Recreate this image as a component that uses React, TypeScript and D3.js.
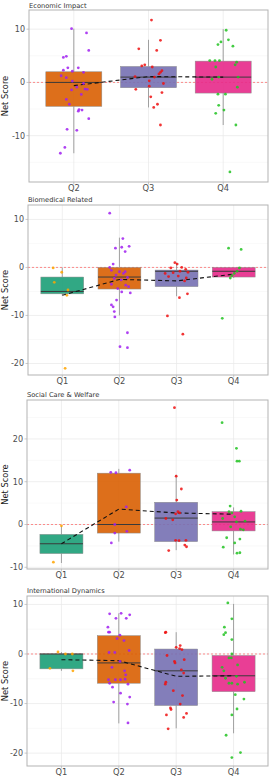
import React, { useEffect, useRef } from "react";
import * as d3 from "d3";

// each point: [horizontal jitter in category units, net score]
type Pt = [number, number];

const boxFill: Record<string, string> = {
  Q1: "#1B9E77",
  Q2: "#D95F02",
  Q3: "#7570B3",
  Q4: "#E7298A",
};
const pointFill: Record<string, string> = {
  Q1: "#FFA500",
  Q2: "#A020F0",
  Q3: "#EE1111",
  Q4: "#22C322",
};

// ---- Economic Impact ----
const econQuarters = ["Q2", "Q3", "Q4"];
// [lower whisker, q1, median, q3, upper whisker]
const econStats = [
  [-13.3, -4.5, 0, 2, 10.1],
  [-4.7, -1, 1, 3, 8],
  [-8, -2, 1, 4, 10],
];
const econMeans = [-0.6, 1.1, 1.0];
const econTicks = [-10, 0, 10];
const econPoints: Pt[][] = [
  [[-0.03, 10.1], [0.17, 9.3], [0.2, 6.0], [-0.14, 4.7], [-0.1, 4.9], [-0.14, 2.3], [-0.08, 2.75], [0.06, 2.75],
   [-0.02, 2.1], [0.13, 1.9], [-0.17, 1.25], [-0.1, 0.9], [-0.02, 0.25], [0.13, -0.2], [0.04, -0.9], [-0.03, -1.4],
   [0.15, -1.25], [0.18, -1.3], [0.1, -2.25], [-0.1, -3.2], [-0.06, -4.1], [0.07, -5.1], [0.11, -5.2], [0.06, -5.4],
   [0.2, -6.8], [-0.09, -8.8], [0.04, -9.0], [-0.12, -12.2], [-0.18, -13.3]],
  [[0.04, 11.7], [0.16, 7.9], [-0.13, 6.3], [0.11, 6.0], [-0.09, 3.1], [-0.05, 3.3], [0.05, 2.9], [0.18, 2.2],
   [0.16, 1.9], [0.14, 1.6], [-0.18, 1.1], [0.08, 1.0], [0.01, 0.3], [0.2, -0.2], [0.01, -0.7], [-0.17, -1.3],
   [0.18, -1.9], [0.03, -2.7], [0.12, -4.1], [0.07, -4.7], [0.16, -8.0]],
  [[0.04, 9.8], [-0.03, 7.6], [0.07, 8.0], [-0.07, 7.1], [0.13, 6.8], [-0.18, 4.1], [-0.11, 4.1], [-0.05, 4.1],
   [0.18, 3.8], [0.16, 3.3], [-0.1, 2.9], [-0.06, 1.0], [0.2, 1.0], [-0.15, 0.6], [0.19, -0.9], [-0.07, -2.2],
   [0.03, -2.2], [-0.06, -4.3], [0.01, -5.2], [-0.1, -5.8], [0.17, -8.0], [0.09, -16.8]],
];

// ---- Biomedical Related ----
const bioQuarters = ["Q1", "Q2", "Q3", "Q4"];
const bioStats = [
  [-5.8, -5.5, -5, -2, 0],
  [-10, -4.5, -2, 0, 6.2],
  [-6, -4, -0.8, -0.55, 1.0],
  [-2.2, -2, -0.8, 0, 0],
];
const bioMeans = [-5.8, -2.5, -2.8, -1.4];
const bioTicks = [-20, -10, 0, 10];
const bioPoints: Pt[][] = [
  [[-0.16, -0.1], [-0.01, -1.0], [-0.14, -3.1], [0.1, -4.7], [0.08, -5.8], [0.05, -21.0]],
  [[-0.17, 11.3], [0.06, 6.0], [-0.07, 4.0], [0.04, 4.2], [0.17, 4.4], [0.1, 3.3], [-0.11, 0.7], [-0.17, 0],
   [-0.14, -0.6], [0, -0.9], [0.1, -0.9], [0.07, -1.25], [-0.06, -1.6], [0.14, -2.1], [-0.09, -2.3], [0.03, -2.6],
   [-0.14, -3.5], [0.11, -3.7], [0.16, -4.0], [-0.03, -4.4], [0.19, -5.3], [0.04, -5.1], [-0.05, -6.8],
   [-0.14, -7.8], [-0.11, -8.2], [-0.09, -9.2], [-0.08, -10.3], [0.14, -13.6], [0.01, -16.5], [0.14, -16.7]],
  [[-0.03, 1.0], [0.01, 0.7], [-0.1, -0.1], [0.09, 0], [0.06, -0.8], [0.16, -0.4], [-0.06, -1.1], [0.2, -1.0],
   [-0.2, -1.25], [0.03, -1.8], [-0.14, -1.9], [0.17, -2.2], [0.14, -2.8], [0.19, -5.5], [0.05, -6.3],
   [-0.16, -10.1], [0.11, -13.9]],
  [[-0.09, 4.0], [0.13, 3.75], [0.1, -0.1], [0.06, -0.8], [0.01, -1.25], [-0.03, -1.7], [-0.06, -2.2], [-0.2, -10.6]],
];

// ---- Social Care & Welfare ----
const socialQuarters = ["Q1", "Q2", "Q3", "Q4"];
const socialStats = [
  [-9, -6.8, -4.5, -2.3, -0.3],
  [-4, -2, 0, 12, 13],
  [-6, -4, 1.5, 5.2, 11.6],
  [-7, -1.5, 0.6, 3, 4],
];
const socialMeans = [-4.5, 3.6, 2.7, 2.4];
const socialTicks = [-10, 0, 10, 20];
const socialPoints: Pt[][] = [
  [[0, -0.3], [-0.14, -8.8]],
  [[-0.14, 12.2], [-0.05, 12.1], [0.19, 12.7], [0.13, 4.1], [-0.07, 0], [-0.07, -2.0], [0.14, -1.6], [-0.13, -4.3]],
  [[-0.03, 27.3], [0, 11.3], [0.09, 8.3], [0.01, 5.7], [0.03, 3.0], [-0.01, 2.5], [0.06, 2.7], [-0.18, 1.4],
   [-0.06, 1.1], [-0.01, -3.7], [0.05, -3.75], [0.17, -3.7], [0.15, -4.8], [0.18, -5.2], [-0.13, -6.1]],
  [[-0.2, 23.8], [0.05, 17.8], [0.06, 14.8], [0.1, 14.8], [-0.06, 4.3], [-0.08, 3.0], [0.13, 3.1], [-0.03, 2.7],
   [0.02, 1.8], [-0.19, 1.4], [0.2, 0.8], [0.05, 0.6], [0.12, -1.1], [0.17, -1.25], [-0.05, -0.55], [-0.12, -3.1],
   [0.11, -3.4], [0.02, -4.3], [-0.18, -5.3], [0.06, -6.7], [0.11, -6.6]],
];

// ---- International Dynamics ----
const intlQuarters = ["Q1", "Q2", "Q3", "Q4"];
const intlStats = [
  [-3.4, -3, 0, 0, 0.4],
  [-14, -5.9, -1.8, 3.7, 8.2],
  [-15, -10.4, -3.4, 1.0, 4.4],
  [-16, -7.6, -4.4, -0.3, 10.1],
];
const intlMeans = [-1.15, -1.35, -4.5, -4.4];
const intlTicks = [-20, -10, 0, 10];
const intlPoints: Pt[][] = [
  [[-0.06, 0.4], [0.07, 0], [0.19, 0], [-0.2, -2.9], [0.2, -3.4]],
  [[-0.16, 8.1], [0.04, 8.2], [0.19, 7.9], [-0.05, 7.2], [0.13, 7.2], [-0.19, 5.4], [-0.18, 4.4], [-0.16, 4.4],
   [0.02, 3.8], [-0.03, 3.1], [0.09, 2.7], [0.18, 0.7], [-0.17, 0.3], [-0.07, 0.3], [0.02, -1.5], [-0.12, -2.7],
   [0.1, -3.4], [0.12, -4.2], [-0.18, -5.2], [-0.06, -5.2], [0.03, -5.2], [0.11, -5.1], [-0.16, -5.9],
   [0.16, -6.1], [-0.11, -6.7], [0.03, -7.9], [0.19, -8.7], [-0.09, -9.7], [0.15, -10.1], [0.16, -13.9]],
  [[-0.19, 4.3], [-0.18, 4.4], [0.07, 1.7], [0, 1.35], [0.06, 1.1], [0.1, 0.9], [-0.16, -0.3], [0.14, -1.15],
   [-0.03, -1.5], [-0.02, -1.8], [0.09, -3.2], [0.13, -3.85], [-0.18, -5.7], [-0.19, -6.1], [-0.05, -7.4],
   [0.11, -8.4], [0.07, -10.1], [-0.1, -10.9], [-0.09, -11.2], [-0.17, -12.3], [0.18, -12.0], [0.13, -12.8],
   [-0.14, -15.1]],
  [[-0.1, 10.3], [-0.03, 7.1], [-0.16, 5.4], [-0.14, 4.3], [-0.17, 3.9], [-0.03, 2.9], [-0.03, 0], [-0.08, -0.8],
   [-0.04, -0.8], [0.07, -2.2], [-0.2, -2.7], [-0.17, -3.4], [0.05, -4.5], [-0.14, -4.9], [-0.08, -5.9],
   [-0.03, -5.9], [0.07, -6.1], [0.19, -5.7], [0.03, -8.2], [0.18, -9.1], [0.06, -11.1], [-0.03, -12.3],
   [-0.13, -16.4], [0.12, -19.9], [-0.03, -20.9]],
];

// panel frames on the page: [left, top, right, bottom], plus y extent
const panels = [
  { title: "Economic Impact", quarters: econQuarters, stats: econStats, means: econMeans, ticks: econTicks,
    points: econPoints, frame: [29, 10, 268, 182], domain: [-18.7, 13.6], titleY: 7.5 },
  { title: "Biomedical Related", quarters: bioQuarters, stats: bioStats, means: bioMeans, ticks: bioTicks,
    points: bioPoints, frame: [28, 205, 268, 375], domain: [-22.4, 13.0], titleY: 201.5 },
  { title: "Social Care & Welfare", quarters: socialQuarters, stats: socialStats, means: socialMeans, ticks: socialTicks,
    points: socialPoints, frame: [27, 400, 268, 569], domain: [-10.4, 29.1], titleY: 397 },
  { title: "International Dynamics", quarters: intlQuarters, stats: intlStats, means: intlMeans, ticks: intlTicks,
    points: intlPoints, frame: [27, 596, 268, 766], domain: [-22.6, 11.7], titleY: 593 },
];

const W = 278;
const H = 776;
const FONT = "'DejaVu Sans', Verdana, sans-serif";

const App: React.FC = () => {
  const ref = useRef<SVGSVGElement | null>(null);

  useEffect(() => {
    const svg = d3.select(ref.current);
    svg.selectAll("*").remove();
    svg.append("rect").attr("width", W).attr("height", H).attr("fill", "#fff");

    panels.forEach((p) => {
      const [left, top, right, bottom] = p.frame;
      const g = svg.append("g");

      const x = d3.scalePoint<string>().domain(p.quarters).range([left, right]).padding(0.6);
      const step = x.step();
      const y = d3.scaleLinear().domain(p.domain).range([bottom, top]);

      g.append("rect")
        .attr("x", left).attr("y", top)
        .attr("width", right - left).attr("height", bottom - top)
        .attr("fill", "#fff");

      // minor grid at half steps between labelled ticks
      const tStep = p.ticks[1] - p.ticks[0];
      const minor = d3.range(p.ticks[0] - tStep / 2, p.domain[1], tStep).filter((v) => v > p.domain[0]);
      g.selectAll(".minor").data(minor).enter().append("line")
        .attr("x1", left).attr("x2", right)
        .attr("y1", (d) => y(d)).attr("y2", (d) => y(d))
        .attr("stroke", "#f2f2f2").attr("stroke-width", 0.5);
      g.selectAll(".major").data(p.ticks).enter().append("line")
        .attr("x1", left).attr("x2", right)
        .attr("y1", (d) => y(d)).attr("y2", (d) => y(d))
        .attr("stroke", "#e8e8e8").attr("stroke-width", 0.7);
      g.selectAll(".vgrid").data(p.quarters).enter().append("line")
        .attr("x1", (d) => x(d)!).attr("x2", (d) => x(d)!)
        .attr("y1", top).attr("y2", bottom)
        .attr("stroke", "#e8e8e8").attr("stroke-width", 0.7);

      // reference line at zero
      g.append("line")
        .attr("x1", left).attr("x2", right)
        .attr("y1", y(0)).attr("y2", y(0))
        .attr("stroke", "#ff7070").attr("stroke-width", 0.8)
        .attr("stroke-dasharray", "2,2");

      // whiskers and boxes
      const bw = step * 0.75;
      p.quarters.forEach((q, i) => {
        const [lo, q1, med, q3, hi] = p.stats[i];
        const cx = x(q)!;
        g.append("line").attr("x1", cx).attr("x2", cx).attr("y1", y(lo)).attr("y2", y(q1))
          .attr("stroke", "#8c8c8c").attr("stroke-width", 0.8);
        g.append("line").attr("x1", cx).attr("x2", cx).attr("y1", y(q3)).attr("y2", y(hi))
          .attr("stroke", "#8c8c8c").attr("stroke-width", 0.8);
        g.append("rect")
          .attr("x", cx - bw / 2).attr("y", y(q3))
          .attr("width", bw).attr("height", Math.max(0.5, y(q1) - y(q3)))
          .attr("fill", boxFill[q]).attr("fill-opacity", 0.9)
          .attr("stroke", "#8c8c8c").attr("stroke-width", 0.5);
        g.append("line")
          .attr("x1", cx - bw / 2).attr("x2", cx + bw / 2)
          .attr("y1", y(med)).attr("y2", y(med))
          .attr("stroke", "#3a3a3a").attr("stroke-width", 1);
      });

      // quarter means joined by a dashed line
      const meanLine = d3.line<number>()
        .x((_, i) => x(p.quarters[i])!)
        .y((d) => y(d));
      g.append("path")
        .attr("d", meanLine(p.means)!)
        .attr("fill", "none")
        .attr("stroke", "#111").attr("stroke-width", 1.1)
        .attr("stroke-dasharray", "4,3");

      // jittered responses
      p.quarters.forEach((q, i) => {
        g.selectAll(`.pt-${q}`).data(p.points[i]).enter().append("circle")
          .attr("cx", (d) => x(q)! + d[0] * step)
          .attr("cy", (d) => y(d[1]))
          .attr("r", 1.4)
          .attr("fill", pointFill[q]).attr("fill-opacity", 0.85);
      });

      // panel border
      g.append("rect")
        .attr("x", left).attr("y", top)
        .attr("width", right - left).attr("height", bottom - top)
        .attr("fill", "none").attr("stroke", "#b3b3b3").attr("stroke-width", 1);

      // y axis
      p.ticks.forEach((t) => {
        g.append("line").attr("x1", left - 2.5).attr("x2", left).attr("y1", y(t)).attr("y2", y(t))
          .attr("stroke", "#b3b3b3").attr("stroke-width", 0.7);
        g.append("text")
          .attr("x", left - 4).attr("y", y(t)).attr("dy", "0.36em")
          .attr("text-anchor", "end")
          .attr("font-family", FONT).attr("font-size", 8).attr("fill", "#4d4d4d")
          .text(t);
      });

      // x axis
      p.quarters.forEach((q) => {
        g.append("line").attr("x1", x(q)!).attr("x2", x(q)!).attr("y1", bottom).attr("y2", bottom + 2.5)
          .attr("stroke", "#b3b3b3").attr("stroke-width", 0.7);
        g.append("text")
          .attr("x", x(q)!).attr("y", bottom + 9)
          .attr("text-anchor", "middle")
          .attr("font-family", FONT).attr("font-size", 8.3).attr("fill", "#4d4d4d")
          .text(q);
      });

      g.append("text")
        .attr("x", left).attr("y", p.titleY)
        .attr("font-family", FONT).attr("font-size", 6.7).attr("fill", "#333")
        .text(p.title);

      g.append("text")
        .attr("transform", `translate(8,${(top + bottom) / 2}) rotate(-90)`)
        .attr("text-anchor", "middle")
        .attr("font-family", FONT).attr("font-size", 8.3).attr("fill", "#1a1a1a")
        .text("Net Score");
    });
  }, []);

  return (
    <svg
      ref={ref}
      width={W}
      height={H}
      style={{ position: "absolute", left: 0, top: 0, display: "block" }}
    />
  );
};

export default App;
